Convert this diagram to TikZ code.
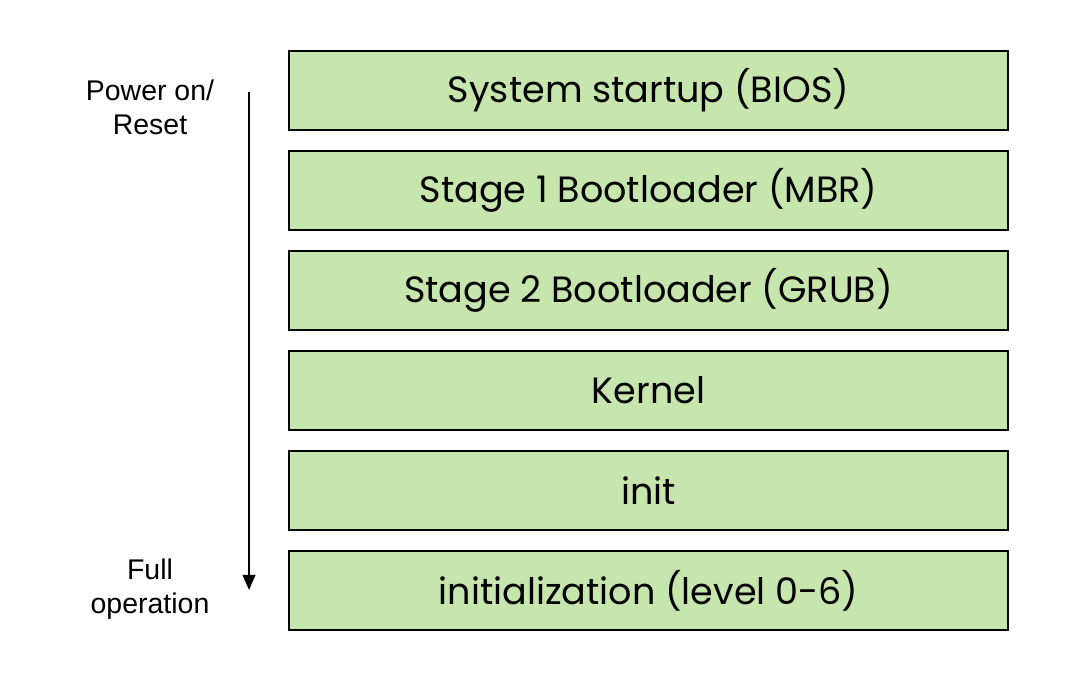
\documentclass[tikz,border=0pt]{standalone}
\usepackage{fontspec}
\setmainfont{Liberation Sans}
\newfontfamily\stagefont{Poppins}
\usepackage{tikz}
\usetikzlibrary{arrows.meta,positioning}
\definecolor{stagegreen}{HTML}{C6E6AE}
\tikzset{
    stagebox/.style={rectangle, draw, line width=0.6pt, fill=stagegreen, minimum width=7.19cm, minimum height=0.79cm, outer sep=0pt, inner sep=0pt, font=\stagefont\fontsize{10.4}{12}\selectfont},
    sidelabel/.style={align=center, font=\fontsize{8.1}{9.7}\selectfont},
    line/.style={draw, line width=0.6pt, -{Triangle[length=4.3pt, width=3.6pt]}}
}
\begin{document}
\begin{tikzpicture}[node distance=0.21cm]
    \useasboundingbox (0,0) rectangle (10.78,-6.82);
    % boot stages
    \node[stagebox] (bios) at (6.485,-0.905) {System startup (BIOS)};
    \node[stagebox, below=of bios] (mbr) {Stage 1 Bootloader (MBR)};
    \node[stagebox, below=of mbr] (grub) {Stage 2 Bootloader (GRUB)};
    \node[stagebox, below=of grub] (kernel) {Kernel};
    \node[stagebox, below=of kernel] (init) {init};
    \node[stagebox, below=of init] (runlevel) {initialization (level 0-6)};
    % side labels
    \node[sidelabel] (power) at (1.5,-1.07) {Power on/\\Reset};
    \node[sidelabel] (full) at (1.5,-5.89) {Full\\operation};
    % time arrow
    \coordinate (start) at (2.49,-0.92);
    \coordinate (stop) at (2.49,-5.9);
    \draw[line] (start) -- (stop);
\end{tikzpicture}
\end{document}
